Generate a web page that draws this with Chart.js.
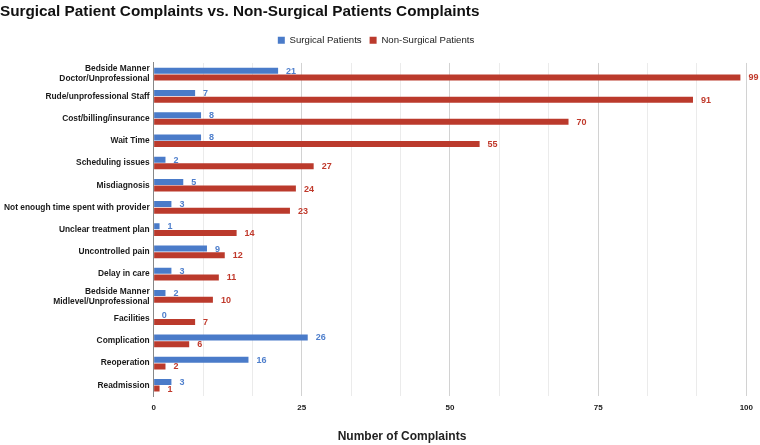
<!DOCTYPE html>
<html>
<head>
<meta charset="utf-8">
<script src="https://cdn.jsdelivr.net/npm/chart.js@4.4.1/dist/chart.umd.min.js"></script>
<style>
  html, body { margin: 0; padding: 0; background: #fff; }
  #wrap { width: 760px; height: 445px; position: relative; }
</style>
</head>
<body>
<div id="wrap"><canvas id="complaintsChart"></canvas></div>
<script>
const categories = [
    ['Bedside Manner', 'Doctor/Unprofessional'],
    'Rude/unprofessional Staff',
    'Cost/billing/insurance',
    'Wait Time',
    'Scheduling issues',
    'Misdiagnosis',
    'Not enough time spent with provider',
    'Unclear treatment plan',
    'Uncontrolled pain',
    'Delay in care',
    ['Bedside Manner', 'Midlevel/Unprofessional'],
    'Facilities',
    'Complication',
    'Reoperation',
    'Readmission'
];
const surgical = [21, 7, 8, 8, 2, 5, 3, 1, 9, 3, 2, 0, 26, 16, 3];
const nonSurgical = [99, 91, 70, 55, 27, 24, 23, 14, 12, 11, 10, 7, 6, 2, 1];
const tickLabels = [0, 25, 50, 75, 100];

const FONT = '"Liberation Sans", Arial, sans-serif';
const BLUE = '#4a7bc9';
const RED = '#bb3a2c';

// value labels next to bar ends
const valueLabels = {
    id: 'valueLabels',
    afterDatasetsDraw(chart) {
        const ctx = chart.ctx;
        ctx.save();
        ctx.font = 'bold 9px ' + FONT;
        ctx.textBaseline = 'middle';
        ctx.textAlign = 'left';
        chart.data.datasets.forEach((ds, i) => {
            ctx.fillStyle = ds.labelColor;
            chart.getDatasetMeta(i).data.forEach((bar, j) => {
                ctx.fillText(ds.data[j], bar.x + 8, bar.y + 0.5);
            });
        });
        ctx.restore();
    }
};

// extra room under the legend
const legendGap = {
    id: 'legendGap',
    beforeInit(chart) {
        const fit = chart.legend.fit;
        chart.legend.fit = function () {
            fit.bind(chart.legend)();
            this.height += 8;
        };
    }
};

// x axis title (sits left of the plot centre in the original)
const axisTitle = {
    id: 'axisTitle',
    afterDraw(chart) {
        const ctx = chart.ctx;
        ctx.save();
        ctx.font = 'bold 12px ' + FONT;
        ctx.fillStyle = '#222';
        ctx.textAlign = 'center';
        ctx.textBaseline = 'middle';
        ctx.fillText('Number of Complaints', 402, 437);
        ctx.restore();
    }
};

new Chart(document.getElementById('complaintsChart'), {
    type: 'bar',
    data: {
        labels: categories,
        datasets: [
            { label: 'Surgical Patients', data: surgical, backgroundColor: BLUE, labelColor: '#4f7fcc' },
            { label: 'Non-Surgical Patients', data: nonSurgical, backgroundColor: RED, labelColor: '#c0392b' }
        ]
    },
    options: {
        indexAxis: 'y',
        responsive: true,
        maintainAspectRatio: false,
        animation: false,
        categoryPercentage: 0.6,
        barPercentage: 0.9,
        layout: { padding: { left: 0, right: 8, top: 0, bottom: 25 } },
        plugins: {
            title: {
                display: true,
                text: 'Surgical Patient Complaints vs. Non-Surgical Patients Complaints',
                align: 'start',
                color: '#111',
                font: { family: FONT, size: 15.3, weight: 'bold' },
                padding: { top: 3, bottom: 6 }
            },
            legend: {
                position: 'top',
                labels: {
                    color: '#1a1a1a',
                    boxWidth: 7,
                    boxHeight: 7,
                    padding: 8,
                    font: { family: FONT, size: 9.6 }
                }
            },
            tooltip: { enabled: false }
        },
        scales: {
            x: {
                min: 0,
                max: 100,
                afterBuildTicks: axis => {
                    const t = [];
                    for (let i = 0; i <= 12; i++) t.push({ value: i * 100 / 12 });
                    axis.ticks = t;
                },
                grid: {
                    color: c => (c.index % 3 === 0 ? '#d2d2d2' : '#ebebeb'),
                    drawTicks: false
                },
                border: { display: false },
                ticks: {
                    padding: 7,
                    color: '#222',
                    font: { family: FONT, size: 8, weight: 'bold' },
                    callback: (v, i) => (i % 3 === 0 ? tickLabels[i / 3] : '')
                }
            },
            y: {
                grid: { display: false, drawTicks: false },
                border: { display: true, color: '#888', width: 1 },
                ticks: {
                    autoSkip: false,
                    padding: 4,
                    color: '#1a1a1a',
                    font: { family: FONT, size: 8.4, weight: 'bold' }
                }
            }
        }
    },
    plugins: [valueLabels, legendGap, axisTitle]
});
</script>
</body>
</html>
